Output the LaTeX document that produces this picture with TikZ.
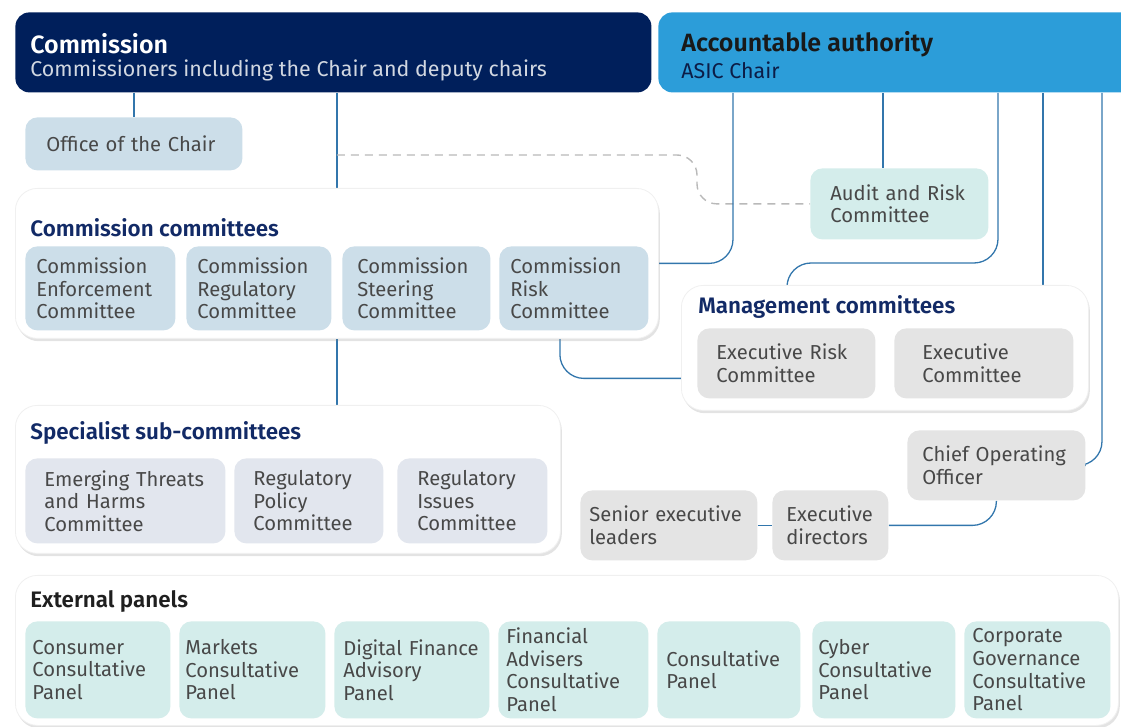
\documentclass[tikz,border=0pt]{standalone}
\usepackage{fontspec}
\setmainfont{Fira Sans}[BoldFont={Fira Sans SemiBold}]
\usetikzlibrary{shadows,calc}
\hyphenpenalty=10000
\exhyphenpenalty=10000

\definecolor{navy}{RGB}{0,31,91}
\definecolor{authblue}{RGB}{44,157,217}
\definecolor{titlenavy}{RGB}{18,42,102}
\definecolor{paleblue}{RGB}{204,222,233}
\definecolor{paleteal}{RGB}{212,237,235}
\definecolor{palegray}{RGB}{228,228,228}
\definecolor{palesteel}{RGB}{226,230,238}
\definecolor{linkblue}{RGB}{50,118,172}
\definecolor{dashgray}{RGB}{185,185,185}
\definecolor{txtgray}{RGB}{72,72,72}

\pgfdeclarelayer{back}
\pgfsetlayers{back,main}

\tikzset{
  head/.style={anchor=north west, rounded corners=7pt, minimum height=40pt, inner sep=0pt},
  headtitle/.style={anchor=west, inner sep=0pt, font=\fontsize{12.5}{14}\selectfont\bfseries},
  headsub/.style={anchor=west, inner sep=0pt, font=\fontsize{10.7}{13}\selectfont},
  group/.style={anchor=north west, rounded corners=11pt, fill=white, draw=black!6, inner sep=0pt,
    drop shadow={opacity=0.22, shadow xshift=0.7pt, shadow yshift=-1.4pt}},
  grouptitle/.style={anchor=west, inner sep=0pt, text=titlenavy, font=\fontsize{11.2}{13}\selectfont\bfseries},
  unit/.style={anchor=north west, rounded corners=6pt, align=left, inner xsep=5.5pt, inner ysep=0pt,
    text=txtgray, font=\fontsize{10.1}{11.3}\selectfont},
  link/.style={draw=linkblue, line width=0.65pt, rounded corners=12pt},
  dashline/.style={draw=dashgray, line width=0.7pt, dash pattern=on 4pt off 3pt, rounded corners=10pt},
}

\begin{document}
\begin{tikzpicture}[x=0.5pt, y=-0.5pt]
\useasboundingbox (0,0) rectangle (1121,727);

% top row
\node[head, fill=navy, minimum width=318pt] (comm) at (15,12) {};
\node[headtitle, text=white] (commname) at ([shift={(7.5pt,-16pt)}]comm.north west) {Commission};
\node[headsub, text=white!82!navy] (commsub) at ([shift={(7.5pt,-29pt)}]comm.north west) {Commissioners including the Chair and deputy chairs};
\node[head, fill=authblue, minimum width=240pt] (auth) at (658,12) {};
\node[headtitle, text=black!90] (authname) at ([shift={(11.5pt,-16pt)}]auth.north west) {Accountable authority};
\node[headsub, text=titlenavy!70!black] (authsub) at ([shift={(11.5pt,-29pt)}]auth.north west) {ASIC Chair};

\node[unit, fill=paleblue, minimum height=26.5pt, text width=87.5pt, inner xsep=10.5pt] (office) at (25,117) {Office~of~the~Chair};
\node[unit, fill=paleteal, minimum height=35.5pt, text width=69pt, inner xsep=10pt] (audit) at (810,168) {Audit~and~Risk\\Committee};

% commission committees
\node[group, minimum width=321.5pt, minimum height=75pt] (ccbox) at (15,188) {};
\node[grouptitle] (cctitle) at ([shift={(7.5pt,-20pt)}]ccbox.north west) {Commission committees};
\node[unit, fill=paleblue, minimum height=42pt, text width=64pt] (cec) at (25,246) {Commission\\Enforcement\\Committee};
\node[unit, fill=paleblue, minimum height=42pt, text width=61.5pt] (crc) at (186,246) {Commission\\Regulatory\\Committee};
\node[unit, fill=paleblue, minimum height=42pt, text width=59pt, inner xsep=7.5pt] (csc) at (342,246) {Commission\\Steering\\Committee};
\node[unit, fill=paleblue, minimum height=42pt, text width=63.5pt] (crk) at (499,246) {Commission\\Risk\\Committee};

% management committees
\node[group, minimum width=203.5pt, minimum height=62.5pt] (mcbox) at (681,285) {};
\node[grouptitle] (mctitle) at ([shift={(8.5pt,-11pt)}]mcbox.north west) {Management committees};
\node[unit, fill=palegray, minimum height=35pt, text width=70pt, inner xsep=9.5pt] (erc) at (697,328) {Executive~Risk\\Committee};
\node[unit, fill=palegray, minimum height=35pt, text width=61.5pt, inner xsep=14pt] (exc) at (894,328) {Executive\\Committee};

% executives
\node[unit, fill=palegray, minimum height=35pt, text width=74pt, inner xsep=7.5pt] (coo) at (907,430) {Chief~Operating\\Officer};
\node[unit, fill=palegray, minimum height=35pt, text width=79.5pt, inner xsep=4.5pt] (sel) at (580,490) {Senior~executive\\leaders};
\node[unit, fill=palegray, minimum height=35pt, text width=44pt, inner xsep=7pt] (exd) at (772,490) {Executive\\directors};

% specialist sub-committees
\node[group, minimum width=272.5pt, minimum height=74pt] (sscbox) at (15,405) {};
\node[grouptitle] (ssctitle) at ([shift={(7.5pt,-14pt)}]sscbox.north west) {Specialist sub-committees};
\node[unit, fill=palesteel, minimum height=42.5pt, text width=81pt, inner xsep=9.5pt] (eth) at (25,458) {Emerging~Threats\\and~Harms\\Committee};
\node[unit, fill=palesteel, minimum height=42.5pt, text width=55.5pt, inner xsep=9.5pt] (rpc) at (234,458) {Regulatory\\Policy\\Committee};
\node[unit, fill=palesteel, minimum height=42.5pt, text width=55pt, inner xsep=10pt] (ric) at (397,458) {Regulatory\\Issues\\Committee};

% external panels
\node[group, minimum width=551.5pt, minimum height=75pt] (epbox) at (15,575) {};
\node[grouptitle, text=black!88] (eptitle) at ([shift={(7.5pt,-13pt)}]epbox.north west) {External panels};
\node[unit, fill=paleteal, minimum height=48.5pt, text width=65.5pt, inner xsep=3.5pt] (ccp) at (25,621) {Consumer\\Consultative\\Panel};
\node[unit, fill=paleteal, minimum height=48.5pt, text width=67pt, inner xsep=3pt] (mcp) at (179,621) {Markets\\Consultative\\Panel};
\node[unit, fill=paleteal, minimum height=48.5pt, text width=68.5pt, inner xsep=4.5pt] (dfa) at (334,621) {Digital~Finance\\Advisory\\Panel};
\node[unit, fill=paleteal, minimum height=48.5pt, text width=67pt, inner xsep=4pt] (fac) at (498,621) {Financial\\Advisers\\Consultative\\Panel};
\node[unit, fill=paleteal, minimum height=48.5pt, text width=62.5pt, inner xsep=4.5pt] (cpn) at (657,621) {Consultative\\Panel};
\node[unit, fill=paleteal, minimum height=48.5pt, text width=65.5pt, inner xsep=3pt] (cyb) at (812,621) {Cyber\\Consultative\\Panel};
\node[unit, fill=paleteal, minimum height=48.5pt, text width=65pt, inner xsep=4pt] (cgc) at (964,621) {Corporate\\Governance\\Consultative\\Panel};

% taps on the accountable authority
\coordinate (t1) at ([xshift=37.5pt]auth.south west);
\coordinate (t2) at ([xshift=112.5pt]auth.south west);
\coordinate (t3) at ([xshift=170pt]auth.south west);
\coordinate (t4) at ([xshift=192.5pt]auth.south west);
\coordinate (t5) at ([xshift=222pt]auth.south west);
\coordinate (m1) at ([xshift=53pt]mcbox.north west);
\coordinate (dashstart) at (ccbox.north |- 0,155);

\begin{pgfonlayer}{back}
\draw[link] (office.north |- comm.south) -- (office.north);
\draw[link] (ccbox.north |- comm.south) -- (ccbox.north);
\draw[link] (ccbox.south) -- (ccbox.south |- sscbox.north);
\draw[dashline] (dashstart) -| ([xshift=-56.5pt]audit.west) -- (audit.west);
\draw[link] (t1) |- (ccbox.east);
\draw[link] (t2) -- (t2 |- audit.north);
\draw[link] (t3) |- ([yshift=11pt]m1) -- (m1);
\draw[link] (t4) -- (t4 |- mcbox.north);
\draw[link] (t5) |- (coo.east);
\draw[link] ([xshift=-7pt]crk.south) |- ([yshift=-7.5pt]erc.west);
\draw[link] (sel) -- (exd);
\draw[link] (exd.east) -| (coo.south);
\end{pgfonlayer}

\end{tikzpicture}
\end{document}
